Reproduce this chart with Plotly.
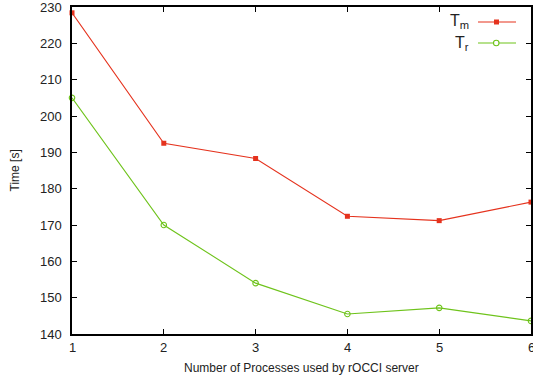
import plotly.graph_objects as go

processes = [1, 2, 3, 4, 5, 6]
t_m = [228.4, 192.5, 188.3, 172.4, 171.2, 176.3]
t_r = [205.0, 170.0, 154.0, 145.5, 147.2, 143.6]
y_ticks = [140, 150, 160, 170, 180, 190, 200, 210, 220, 230]
x_title = "Number of Processes used by rOCCI server"
y_title = "Time [s]"

red = "#e5321d"
green = "#6ec31b"
font_family = "Liberation Sans, Arial, Helvetica, sans-serif"
txt = "#222"

W, H = 533, 379
ml, mr, mt, mb = 72, 2, 7, 45
pw, ph = W - ml - mr, H - mt - mb
def px(x):
    return (x - ml) / pw
def py(y):
    return 1 - (y - mt) / ph

fig = go.Figure()
fig.add_trace(go.Scatter(x=processes, y=t_m, mode="lines+markers", name="T_m",
                         line=dict(color=red, width=1.1),
                         marker=dict(symbol="square", size=5, color=red),
                         cliponaxis=False))
fig.add_trace(go.Scatter(x=processes, y=t_r, mode="lines+markers", name="T_r",
                         line=dict(color=green, width=1.1),
                         marker=dict(symbol="circle-open", size=5.5, color=green,
                                     line=dict(width=1.1, color=green)),
                         cliponaxis=False))

axis_common = dict(showgrid=False, zeroline=False, showline=True, linecolor="black",
                   linewidth=1.5, mirror="ticks", ticks="inside", ticklen=5,
                   tickwidth=1, tickcolor="black", automargin=False,
                   showticklabels=False)

fig.update_xaxes(range=[1, 6], tickvals=processes, **axis_common)
fig.update_yaxes(range=[140, 230], tickvals=y_ticks, **axis_common)

# tick labels as annotations (so edge labels are not dropped)
for p in processes:
    fig.add_annotation(x=p, xref="x", y=0, yref="paper", text=str(p), showarrow=False,
                       xanchor="center", yanchor="middle", yshift=-13.5,
                       font=dict(family=font_family, size=13, color=txt))
for v in y_ticks:
    fig.add_annotation(x=0, xref="paper", y=v, yref="y", text=str(v), showarrow=False,
                       xanchor="right", yanchor="middle", xshift=-8,
                       font=dict(family=font_family, size=13, color=txt))

# axis titles
fig.add_annotation(x=px(301.5), xref="paper", y=py(368), yref="paper", text=x_title,
                   showarrow=False, xanchor="center", yanchor="middle",
                   font=dict(family=font_family, size=12, color=txt))
fig.add_annotation(x=px(14), xref="paper", y=py(170.5), yref="paper", text=y_title,
                   showarrow=False, xanchor="center", yanchor="middle", textangle=-90,
                   font=dict(family=font_family, size=12, color=txt))

# manual gnuplot-style legend (text right, sample on the right)
legend_items = [("T<sub>m</sub>", red, "square", 22), ("T<sub>r</sub>", green, "circle", 43)]
for text, col, sym, ypix in legend_items:
    fig.add_annotation(xref="paper", yref="paper", x=px(471), y=py(ypix), text=text,
                       showarrow=False, xanchor="right", yanchor="middle",
                       font=dict(family=font_family, size=16, color=txt))
    fig.add_shape(type="line", xref="paper", yref="paper", x0=px(478), x1=px(516),
                  y0=py(ypix), y1=py(ypix), line=dict(color=col, width=1.1))
    if sym == "square":
        fig.add_shape(type="rect", xref="paper", yref="paper", x0=px(494), x1=px(499),
                      y0=py(ypix - 2.5), y1=py(ypix + 2.5), fillcolor=col,
                      line=dict(width=0))
    else:
        fig.add_shape(type="circle", xref="paper", yref="paper", x0=px(493.5), x1=px(499),
                      y0=py(ypix - 2.75), y1=py(ypix + 2.75), fillcolor="white",
                      line=dict(color=col, width=1.1))

fig.update_layout(width=W, height=H, showlegend=False,
                  margin=dict(l=ml, r=mr, t=mt, b=mb),
                  paper_bgcolor="white", plot_bgcolor="white",
                  font=dict(family=font_family, size=12, color=txt))

fig.write_html("out.html")
